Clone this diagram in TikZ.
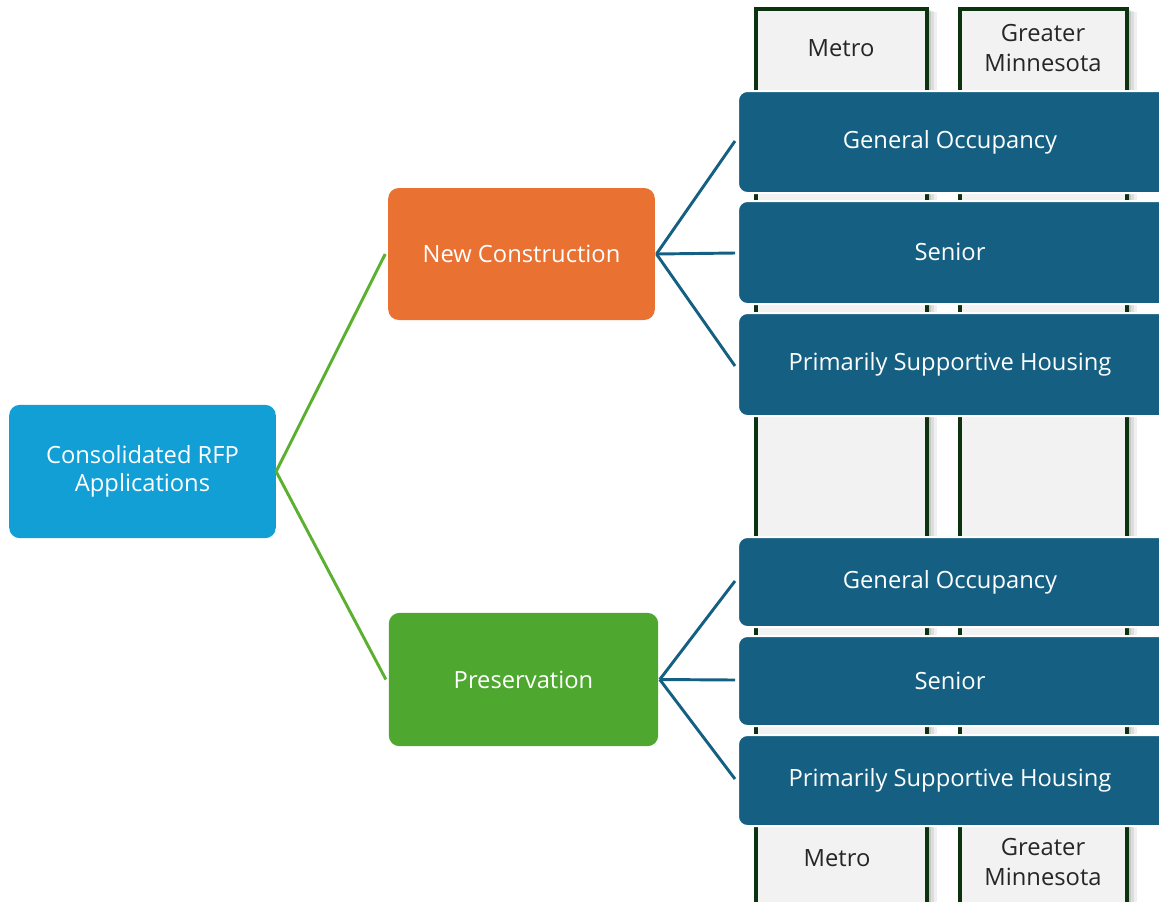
\documentclass[tikz,border=0pt]{standalone}
\usepackage{fontspec}
\setmainfont{Open Sans}
\definecolor{cblue}{HTML}{119FD6}
\definecolor{corange}{HTML}{E97132}
\definecolor{cgreen}{HTML}{4EA72E}
\definecolor{cnavy}{HTML}{156082}
\definecolor{colfill}{HTML}{F2F2F2}
\definecolor{colline}{HTML}{0B3310}
\definecolor{lgreen}{HTML}{5BB030}
\begin{document}
\begin{tikzpicture}[x=0.75pt,y=-0.75pt,
  box/.style={rounded corners=8pt,text=white,font=\fontsize{17.8}{21}\selectfont,align=center},
  navybox/.style={fill=cnavy,draw=white,line width=1.5pt,rounded corners=7pt},
  collabel/.style={text=black!85,font=\fontsize{17.8}{23}\selectfont,align=center},
  gline/.style={draw=lgreen,line width=2.2pt},
  bline/.style={draw=cnavy,line width=2.2pt}]
\useasboundingbox (0,0) rectangle (1159,901);
% columns with shadow
\foreach \xa/\xb in {756/927,960/1127}{
  \fill[black,opacity=0.06] (\xa+4,12) rectangle (\xb+10,905);
  \fill[black,opacity=0.08] (\xa+3,11) rectangle (\xb+7,905);
  \fill[black,opacity=0.10] (\xa+2,10) rectangle (\xb+4,905);
  \filldraw[fill=colfill,draw=colline,line width=2.8pt] (\xa,9) rectangle (\xb,915);
}
\node[collabel] (m1) at (841,48) {Metro};
\node[collabel] (g1) at (1043,48) {Greater\\Minnesota};
\node[collabel] (m2) at (837,858) {Metro};
\node[collabel] (g2) at (1043,862) {Greater\\Minnesota};
% main boxes
\node[box,fill=cblue,minimum width=200pt,minimum height=100pt] (root) at (142.5,471.5) {Consolidated RFP\\Applications};
\node[box,fill=corange,minimum width=200pt,minimum height=99pt] (nc) at (521.5,254) {New Construction};
\node[box,fill=cgreen,minimum width=202pt,minimum height=100pt] (pr) at (523.5,679.5) {Preservation};
% navy boxes
\path[navybox] (738,91) rectangle (1175,193);
\node[box] (go1) at (950,142) {General Occupancy};
\path[navybox] (738,201) rectangle (1175,304);
\node[box] (s1) at (950,252) {Senior};
\path[navybox] (738,313) rectangle (1175,416);
\node[box] (p1) at (950,364) {Primarily Supportive Housing};
\path[navybox] (738,537) rectangle (1175,627);
\node[box] (go2) at (950,582) {General Occupancy};
\path[navybox] (738,636) rectangle (1175,726);
\node[box] (s2) at (950,681) {Senior};
\path[navybox] (738,735) rectangle (1175,826);
\node[box] (p2) at (950,780) {Primarily Supportive Housing};
\coordinate (go1l) at (735,141);
\coordinate (s1l) at (735,253);
\coordinate (p1l) at (735,366);
\coordinate (go2l) at (735,581);
\coordinate (s2l) at (735,680);
\coordinate (p2l) at (735,779);
% connectors
\draw[gline] (root.east) -- ([xshift=-2pt]nc.west);
\draw[gline] (root.east) -- ([xshift=-2pt]pr.west);
\draw[bline] ([xshift=1pt]nc.east) -- (go1l);
\draw[bline] ([xshift=1pt]nc.east) -- (s1l);
\draw[bline] ([xshift=1pt]nc.east) -- (p1l);
\draw[bline] ([xshift=1pt]pr.east) -- (go2l);
\draw[bline] ([xshift=1pt]pr.east) -- (s2l);
\draw[bline] ([xshift=1pt]pr.east) -- (p2l);
\end{tikzpicture}
\end{document}
